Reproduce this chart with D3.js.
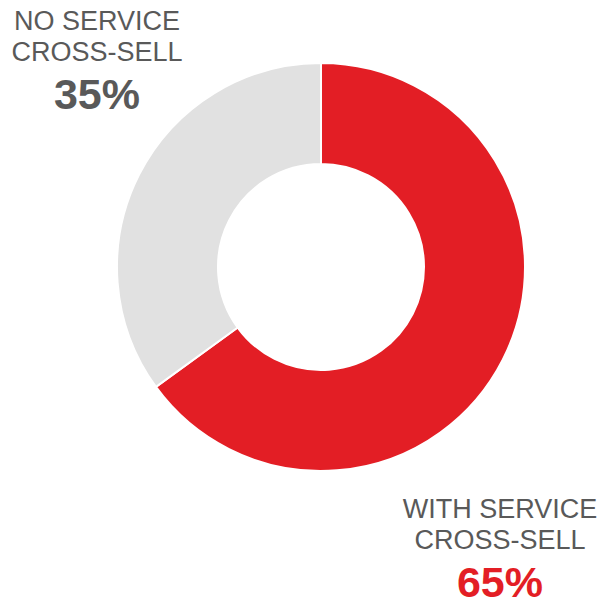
<!DOCTYPE html>
<html><head><meta charset="utf-8">
<script src="https://cdn.jsdelivr.net/npm/d3@7"></script>
<style>html,body{margin:0;padding:0;background:#fff;}svg{display:block;}</style>
</head><body>
<svg id="chart" width="598" height="602"></svg>
<script>
const categories = ["WITH SERVICE CROSS-SELL", "NO SERVICE CROSS-SELL"];
const values = [65, 35];
const colors = ["#E31E25", "#E1E1E1"];
const labelLines = [["WITH SERVICE", "CROSS-SELL"], ["NO SERVICE", "CROSS-SELL"]];
const valueLabels = ["65%", "35%"];
const valueColors = ["#E31E25", "#595959"];

const svg = d3.select("#chart");
const cx = 321, cy = 267, rOuter = 204, rInner = 103;

const pie = d3.pie().sort(null).value(d => d)(values);
const arc = d3.arc().innerRadius(rInner).outerRadius(rOuter);

svg.append("g").attr("transform", `translate(${cx},${cy})`)
  .selectAll("path").data(pie).join("path")
  .attr("d", arc)
  .attr("fill", (d, i) => colors[i])
  .attr("stroke", "#fff").attr("stroke-width", 2);

const labelPos = [{x: 500, y: 518}, {x: 97, y: 30}];
labelPos.forEach((p, i) => {
  const g = svg.append("g").attr("font-family", "Liberation Sans, Arial, sans-serif").attr("text-anchor", "middle");
  labelLines[i].forEach((t, j) => {
    g.append("text").attr("x", p.x).attr("y", p.y + j * 31)
      .attr("font-size", 27).attr("fill", "#595959").text(t);
  });
  g.append("text").attr("x", p.x).attr("y", p.y + 79)
    .attr("font-size", 43).attr("font-weight", "bold").attr("fill", valueColors[i]).text(valueLabels[i]);
});
</script>
</body></html>
